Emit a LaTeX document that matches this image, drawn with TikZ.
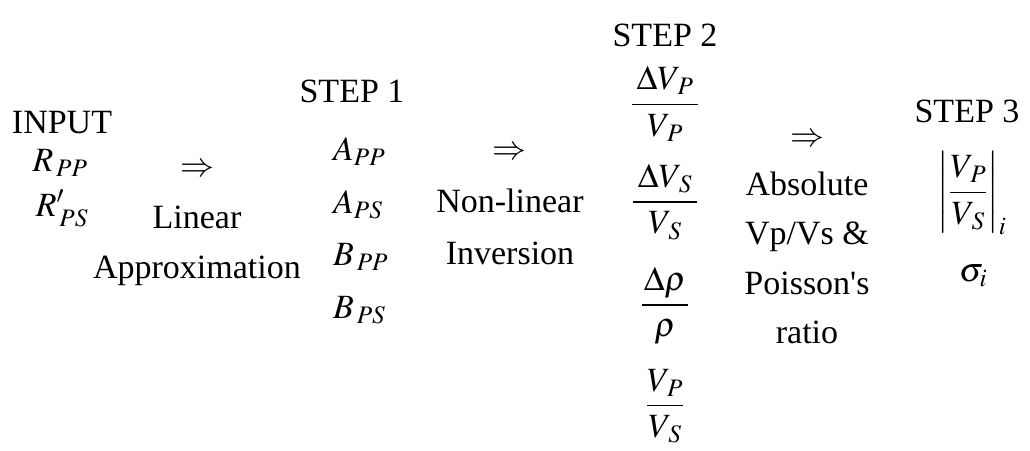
\documentclass[tikz,border=0pt]{standalone}
\usepackage{mathptmx}
\usepackage[no-math]{fontspec}
\setmainfont{Liberation Serif}
\tikzset{
  lbl/.style={inner sep=0pt, font=\fontsize{34}{40}\selectfont, anchor=base},
  sym/.style={inner sep=0pt, font=\fontsize{34}{40}\selectfont, anchor=center},
  frc/.style={inner sep=0pt, font=\fontsize{34}{40}\selectfont, anchor=center},
}
\newcommand{\padnum}[1]{\kern5pt#1\kern5pt}
\begin{document}
\begin{tikzpicture}[x=1pt,y=-1pt]
\useasboundingbox[fill=white] (0,0) rectangle (1030,450);
% INPUT column
\node[lbl] (input) at (62,133) {INPUT};
\node[lbl] (rpp) at (60,171) {$R_{\,PP}$};
\node[lbl] (rps) at (62,216) {$R'_{\,PS}$};
% first transition
\node[sym] (arr1) at (197,170) {$\Rightarrow$};
\node[lbl] (lin) at (197,228) {Linear};
\node[lbl] (approx) at (197,278) {Approximation};
% STEP 1
\node[lbl] (step1) at (352,102) {STEP 1};
\node[lbl, anchor=base west] (app) at (333,160) {$A_{PP}$};
\node[lbl, anchor=base west] (aps) at (333,213) {$A_{PS}$};
\node[lbl, anchor=base west] (bpp) at (333,265) {$B_{\,PP}$};
\node[lbl, anchor=base west] (bps) at (333,318) {$B_{\,PS}$};
% second transition
\node[sym] (arr2) at (509,153) {$\Rightarrow$};
\node[lbl] (nonlin) at (510,212) {Non-linear};
\node[lbl] (inv) at (510,264) {Inversion};
% STEP 2
\node[lbl] (step2) at (665,46) {STEP 2};
\node[frc] (f1) at (665,104) {$\displaystyle\frac{\padnum{\Delta V_{\,P}}}{V_{\,P}}$};
\node[frc] (f2) at (665,202) {$\displaystyle\frac{\padnum{\Delta V_{\,S}}}{V_{\,S}}$};
\node[frc] (f3) at (665,306) {$\displaystyle\frac{\kern2pt\Delta\rho\kern2pt}{\rho}$};
\node[frc] (f4) at (665,406) {$\displaystyle\frac{V_{\,P}}{V_{\,S}}$};
% third transition
\node[sym] (arr3) at (807,140) {$\Rightarrow$};
\node[lbl] (abs) at (807,195) {Absolute};
\node[lbl] (vpvs) at (807,244) {Vp/Vs \&};
\node[lbl] (poi) at (807,294) {Poisson\textquotesingle s};
\node[lbl] (ratio) at (807,343) {ratio};
% STEP 3
\node[lbl] (step3) at (967,122) {STEP 3};
\node[frc] (absf) at (972,193) {$\displaystyle\biggl|\frac{V_{\,P}}{V_{\,S}}\biggr|_i$};
\node[lbl] (sig) at (973,281) {$\sigma_i$};
\end{tikzpicture}
\end{document}
